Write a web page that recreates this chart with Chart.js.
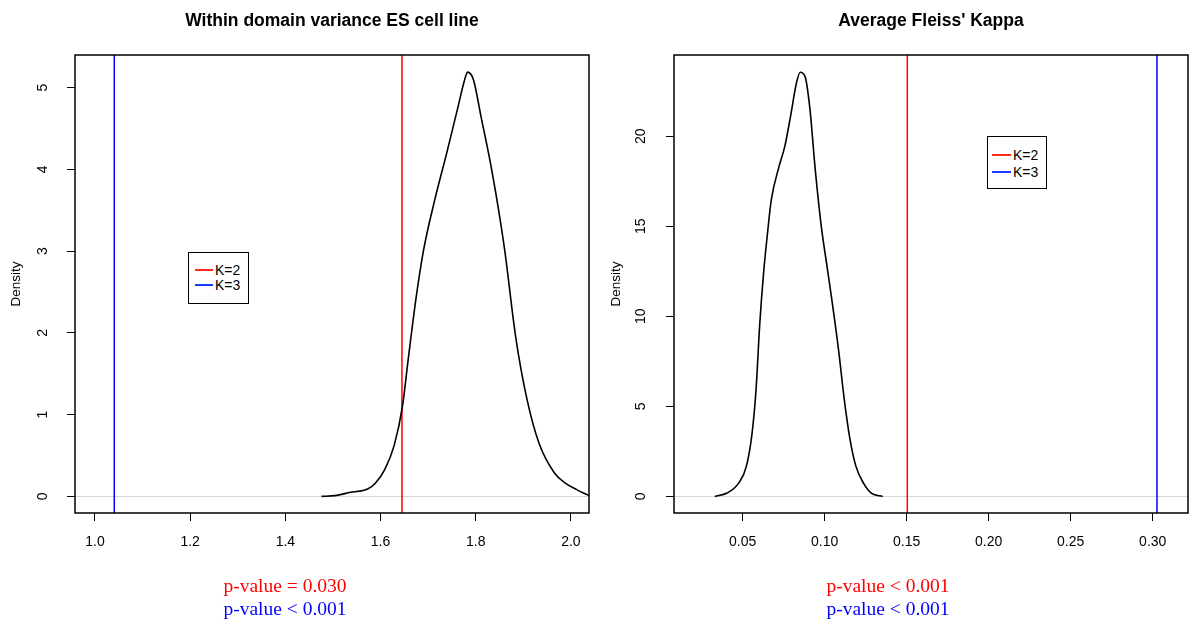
<!DOCTYPE html>
<html>
<head>
<meta charset="utf-8">
<script src="https://cdn.jsdelivr.net/npm/chart.js@4"></script>
<style>
  html, body { margin:0; padding:0; background:#fff; }
  body { width:1200px; height:634px; position:relative; overflow:hidden; }
  canvas { position:absolute; top:0; }
  .title { position:absolute; top:10px; font-family:"Liberation Sans", Arial, sans-serif; font-weight:bold; font-size:17.5px; color:#000; text-align:center; width:514px; white-space:nowrap; }
  .pval { position:absolute; font-family:"Liberation Serif", "Times New Roman", serif; font-size:19.5px; text-align:center; width:300px; white-space:nowrap; line-height:22.5px; }
  .legend { position:absolute; border:1.5px solid #000; background:#fff; font-family:"Liberation Sans", Arial, sans-serif; font-size:14px; color:#000; box-sizing:border-box; }
  .legend .row { position:absolute; height:16px; line-height:16px; white-space:nowrap; }
  .legend .sw { position:absolute; height:2px; top:7px; }
  .legend .lbl { position:absolute; top:0; }
</style>
</head>
<body>
<canvas id="c1" width="600" height="634" style="left:0px"></canvas>
<canvas id="c2" width="600" height="634" style="left:600px"></canvas>

<div class="title" style="left:75px">Within domain variance ES cell line</div>
<div class="title" style="left:674px">Average Fleiss' Kappa</div>

<div class="legend" style="left:188px; top:252px; width:61px; height:52px;">
  <div class="row" style="left:0; top:9px; width:60px;"><div class="sw" style="left:6px; width:18px; background:#ff2a1a;"></div><div class="lbl" style="left:26px;">K=2</div></div>
  <div class="row" style="left:0; top:24px; width:60px;"><div class="sw" style="left:6px; width:18px; background:#1a3cff;"></div><div class="lbl" style="left:26px;">K=3</div></div>
</div>
<div class="legend" style="left:987px; top:136px; width:60px; height:53px;">
  <div class="row" style="left:0; top:10px; width:60px;"><div class="sw" style="left:4px; width:19px; height:1.5px; background:#ff2a1a;"></div><div class="lbl" style="left:25px;">K=2</div></div>
  <div class="row" style="left:0; top:27px; width:60px;"><div class="sw" style="left:4px; width:19px; height:1.5px; background:#1a3cff;"></div><div class="lbl" style="left:25px;">K=3</div></div>
</div>

<div class="pval" style="left:135px; top:575px;"><span style="color:#ff0000">p-value = 0.030</span><br><span style="color:#0000ff">p-value &lt; 0.001</span></div>
<div class="pval" style="left:738px; top:575px;"><span style="color:#ff0000">p-value &lt; 0.001</span><br><span style="color:#0000ff">p-value &lt; 0.001</span></div>

<script>
// ---------- data ----------
const leftDensityX = [1.476, 1.504, 1.537, 1.573, 1.589, 1.609, 1.629, 1.646, 1.658, 1.674, 1.690, 1.714, 1.739, 1.763, 1.775, 1.783, 1.795, 1.811, 1.835, 1.860, 1.884, 1.908, 1.933, 1.965, 1.989, 2.013, 2.038];
const leftDensityY = [0.00, 0.01, 0.05, 0.09, 0.16, 0.33, 0.63, 1.10, 1.67, 2.40, 3.00, 3.63, 4.20, 4.77, 5.06, 5.19, 5.10, 4.65, 3.95, 3.05, 1.95, 1.18, 0.65, 0.29, 0.16, 0.08, 0.01];
const leftK2 = 1.645;
const leftK3 = 1.0405;
const leftXTicks = [1.0, 1.2, 1.4, 1.6, 1.8, 2.0];
const leftYTicks = [0, 1, 2, 3, 4, 5];

const rightDensityX = [0.0331, 0.0406, 0.0476, 0.0523, 0.0558, 0.0582, 0.0605, 0.0628, 0.0652, 0.0675, 0.0722, 0.0757, 0.0792, 0.0828, 0.0851, 0.0881, 0.0909, 0.0945, 0.0980, 0.1015, 0.1050, 0.1085, 0.1120, 0.1155, 0.1191, 0.1237, 0.1284, 0.1354];
const rightDensityY = [0.00, 0.19, 0.74, 1.67, 3.52, 5.92, 9.62, 12.40, 14.62, 16.46, 18.31, 19.42, 21.09, 22.94, 23.55, 23.31, 21.64, 17.95, 14.98, 12.76, 10.54, 8.14, 5.37, 3.15, 1.67, 0.74, 0.19, 0.00];
const rightK2 = 0.1504;
const rightK3 = 0.3026;
const rightXTicks = [0.05, 0.10, 0.15, 0.20, 0.25, 0.30];
const rightYTicks = [0, 5, 10, 15, 20];

// ---------- helpers ----------
const FONT = "'Liberation Sans', Arial, sans-serif";

const boxPlugin = {
  id: 'box',
  afterDraw(chart) {
    const a = chart.chartArea, ctx = chart.ctx;
    ctx.save();
    ctx.strokeStyle = '#000';
    ctx.lineWidth = 1.5;
    ctx.strokeRect(a.left, a.top, a.right - a.left, a.bottom - a.top);
    ctx.restore();
  }
};

function makeChart(id, dx, dy, k2, k3, xr, yr, xTicks, yTicks, decimals, pad, yPad) {
  const curve = dx.map((x, i) => ({x: x, y: dy[i]}));
  const vline = v => [{x: v, y: yr[0]}, {x: v, y: yr[1]}];
  return new Chart(document.getElementById(id), {
    type: 'line',
    data: {
      datasets: [
        {data: curve, borderColor: '#000', borderWidth: 1.6, pointRadius: 0, cubicInterpolationMode: 'monotone', fill: false},
        {data: vline(k2), borderColor: '#ff0000', borderWidth: 1.5, pointRadius: 0, tension: 0},
        {data: vline(k3), borderColor: '#0000ff', borderWidth: 1.5, pointRadius: 0, tension: 0}
      ]
    },
    options: {
      responsive: false,
      animation: false,
      events: [],
      layout: {padding: pad},
      plugins: {legend: {display: false}, title: {display: false}, tooltip: {enabled: false}},
      scales: {
        x: {
          type: 'linear', min: xr[0], max: xr[1],
          afterBuildTicks: s => { s.ticks = xTicks.map(v => ({value: v})); },
          ticks: {
            callback: v => Number(v).toFixed(decimals),
            color: '#000', font: {family: FONT, size: 14}, padding: 13,
            minRotation: 0, maxRotation: 0, autoSkip: false
          },
          grid: {display: true, drawOnChartArea: false, drawTicks: true, tickLength: 8, tickColor: '#000', tickWidth: 1},
          border: {display: false},
          afterFit: s => { s.height = 50; }
        },
        y: {
          type: 'linear', min: yr[0], max: yr[1],
          afterBuildTicks: s => { s.ticks = yTicks.map(v => ({value: v})); },
          ticks: {
            color: '#000', font: {family: FONT, size: 14}, padding: yPad,
            minRotation: 90, maxRotation: 90, crossAlign: 'center', autoSkip: false
          },
          grid: {
            display: true, drawOnChartArea: true, drawTicks: true, tickLength: 8, tickColor: '#000', tickWidth: 1,
            color: c => (c.tick && c.tick.value === 0) ? '#d6d6d6' : 'rgba(0,0,0,0)', lineWidth: 1
          },
          border: {display: false},
          title: {display: true, text: 'Density', color: '#000', font: {family: FONT, size: 13.5}, padding: {top: 8, bottom: 0}},
          afterFit: s => { s.width = pad.leftAxis; }
        }
      }
    },
    plugins: [boxPlugin]
  });
}

makeChart('c1', leftDensityX, leftDensityY, leftK2, leftK3, [0.958, 2.038], [-0.203, 5.40], leftXTicks, leftYTicks, 1,
  {left: 0, top: 55, right: 11, bottom: 71, leftAxis: 75}, 20);
makeChart('c2', rightDensityX, rightDensityY, rightK2, rightK3, [0.0082, 0.3215], [-0.92, 24.51], rightXTicks, rightYTicks, 2,
  {left: 0, top: 55, right: 12, bottom: 71, leftAxis: 74}, 17);
</script>
</body>
</html>
